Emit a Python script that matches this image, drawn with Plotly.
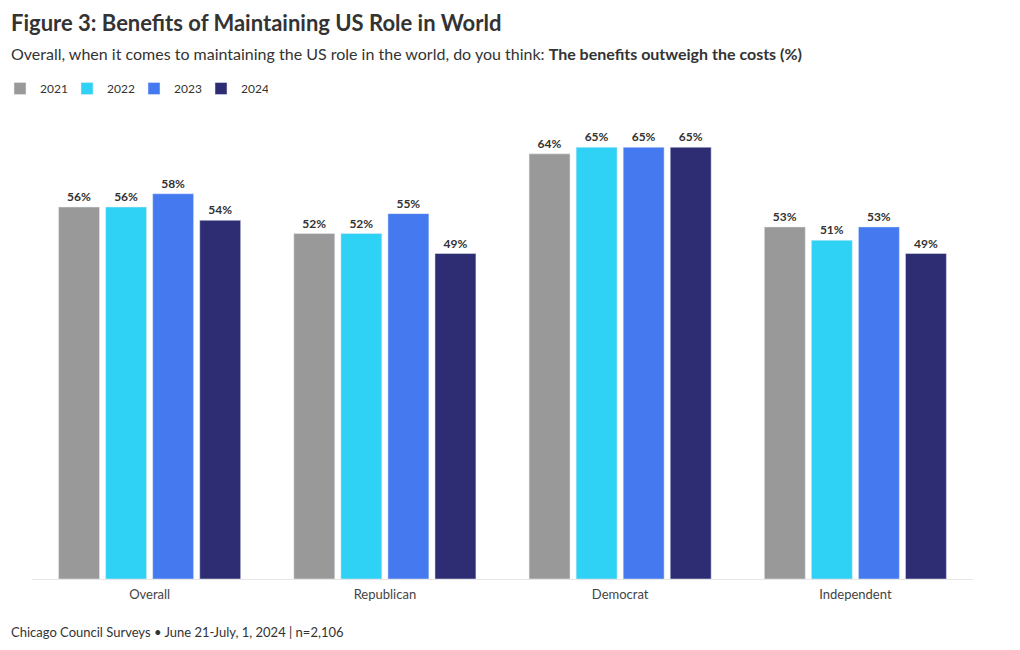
import plotly.graph_objects as go

categories = ["Overall", "Republican", "Democrat", "Independent"]
years = ["2021", "2022", "2023", "2024"]
v2021 = [56, 52, 64, 53]
v2022 = [56, 52, 65, 51]
v2023 = [58, 55, 65, 53]
v2024 = [54, 49, 65, 49]
series = [v2021, v2022, v2023, v2024]
colors = ["#999999", "#2fd1f5", "#4479ef", "#2e2d73"]

FONT = "Source Sans Pro, Lato, sans-serif"

fig = go.Figure()
for yr, vals, c in zip(years, series, colors):
    fig.add_trace(go.Bar(
        name=yr, x=categories, y=vals, marker_color=c,
        text=[f"{v}%" for v in vals], textposition="outside",
        textfont=dict(family=FONT, size=12, color="#333333", weight="bold"),
        cliponaxis=False,
    ))

fig.update_layout(
    width=1020, height=650,
    paper_bgcolor="white", plot_bgcolor="white",
    margin=dict(l=32, r=47, t=114, b=71, autoexpand=False),
    barmode="group", bargap=0.2, bargroupgap=0.13,
    font=dict(family=FONT, color="#333333"),
    showlegend=True,
    legend=dict(orientation="h", x=-0.002, xref="container", y=1 - 74/650, yref="container",
                yanchor="top", xanchor="left", font=dict(size=12, color="#333333"),
                itemwidth=30, entrywidth=22, entrywidthmode="pixels",
                tracegroupgap=0, traceorder="normal"),
    xaxis=dict(showgrid=False, showline=True, linecolor="#e6e6e6", linewidth=1,
               ticks="", ticklabelstandoff=3, tickfont=dict(size=13, color="#444444")),
    yaxis=dict(range=[0, 70], visible=False, showgrid=False, zeroline=False),
)

annots = [
    dict(text="<b>Figure 3: Benefits of Maintaining US Role in World</b>", y=22, size=22),
    dict(text="Overall, when it comes to maintaining the US role in the world, do you think: <b>The benefits outweigh the costs (%)</b>", y=54, size=16),
    dict(text="Chicago Council Surveys • June 21-July, 1, 2024 | n=2,106", y=632, size=13),
]
for a in annots:
    fig.add_annotation(text=a["text"], xref="paper", yref="paper",
                       x=(9 - 32) / 941, y=(650 - 71 - a["y"]) / 465,
                       xanchor="left", yanchor="middle", showarrow=False,
                       font=dict(size=a["size"], color="#333333", family=FONT))

fig.write_html("out.html", config={"displayModeBar": False},
               post_script="document.body.style.margin='0';document.body.style.padding='0';")
